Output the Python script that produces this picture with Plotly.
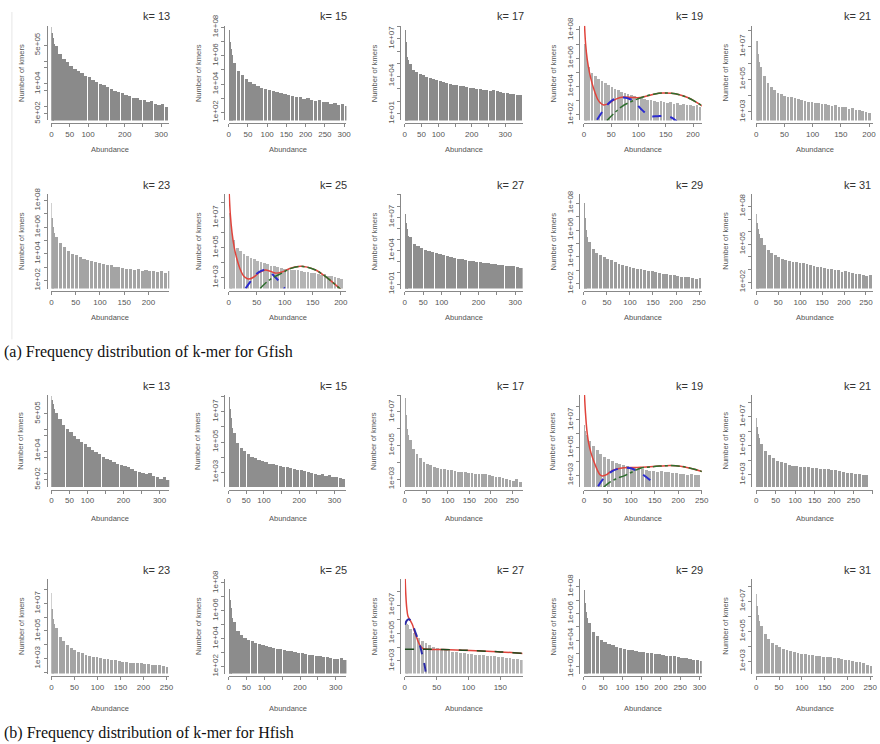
import numpy as np
import plotly.graph_objects as go

W, H = 880, 744

# ---------------- data (k-mer counts) ----------------
# first bin, split into 2-unit sub-bins (the spike near abundance 0)
g13_head = [3.2e6, 1.8e6, 1.1e6, 8e5, 6e5]
g15_head = [6.3e7, 1e7, 3.2e6, 1.26e6, 6.3e5]
g17_head = [5e7, 6.3e6, 1.26e6, 4e5, 2e5]
g19_head = [1e7, 1.6e6, 5e5]
g21_head = [2.5e7, 4e6, 1.26e6]
g23_head = [6.3e7, 5e6, 1e6, 4e5]
g25_head = [2e7, 3.2e6, 8e5]
g27_head = [2e7, 3.2e6, 1e6, 4e5, 2.2e5]
g29_head = [1e8, 8e6, 1e6, 3.2e5]
g31_head = [2.5e7, 5e6, 1.6e6, 6.3e5]
h13_head = [3.2e6, 2e6, 1.4e6, 1e6, 8e5]
h15_head = [1e8, 1.6e7, 4e6, 1.6e6, 8e5]
h17_head = [6.3e7, 6.3e6, 1e6, 4e5]
h19_head = [4e6, 1.6e6, 8e5, 5e5]
h21_head = [8e6, 2e6, 6.3e5, 3.2e5, 2e5]
h23_head = [6.3e7, 4e6, 8e5, 3.2e5]
h25_head = [4e7, 6.3e6, 1.6e6, 6.3e5, 3.2e5]
h27_head = [6.3e5, 5e5, 4e5]
h29_head = [6.3e7, 6.3e6, 1.26e6, 5e5, 3.2e5]
h31_head = [3.2e7, 5e6, 1.26e6, 5e5]

# remaining bins
g13 = [4.5e5, 2.2e5, 1.3e5, 9e4, 6.3e4, 4.8e4, 3.7e4, 3e4, 2.4e4, 2e4, 1.6e4, 1.26e4, 1.05e4, 9e3, 7.4e3,
       6.3e3, 5.2e3, 4.6e3, 4e3, 3.3e3, 3.2e3, 2.6e3, 2.4e3, 2e3, 2.1e3, 1.7e3, 1.8e3, 1.4e3, 1.26e3, 1.3e3, 1e3]
g15 = [3.2e5, 9e4, 4.5e4, 2.5e4, 1.6e4, 1.1e4, 8e3, 6e3, 4.8e3, 4e3, 3.3e3, 2.8e3, 2.4e3, 2e3, 1.8e3,
       1.6e3, 1.3e3, 1.26e3, 1e3, 1.05e3, 830, 700, 800, 630, 560, 400, 520, 350, 400, 320]
g17 = [1e5, 3.5e4, 2.2e4, 1.6e4, 1.26e4, 1e4, 8e3, 6.3e3, 5e3, 4.2e3, 3.5e3, 3.2e3, 2.6e3, 2.2e3, 2e3,
       1.8e3, 1.6e3, 1.4e3, 1.26e3, 1.1e3, 1e3, 1.05e3, 900, 800, 700, 800, 630, 560, 500, 520, 420, 400, 350, 320]
g19 = [2.5e5, 1e5, 6.3e4, 3.5e4, 2.5e4, 1.8e4, 1.26e4, 9e3, 7e3, 5.6e3, 4.5e3, 3.5e3, 3.2e3, 2.5e3, 2.2e3,
       2e3, 1.6e3, 1.4e3, 1.26e3, 1.1e3, 1e3, 900, 1e3, 800, 700, 800, 630, 700, 560, 630, 500, 560, 450, 500, 400]
g21 = [6.3e5, 1.6e5, 6.3e4, 3.5e4, 2.2e4, 1.6e4, 1.26e4, 1.05e4, 9e3, 8e3, 7.6e3, 6.6e3, 6e3, 5e3, 4.5e3,
       4.2e3, 3.8e3, 3.5e3, 3.2e3, 3.2e3, 2.8e3, 2.5e3, 2.6e3, 2.2e3, 2e3, 2.1e3, 1.6e3, 1.8e3, 1.3e3, 1.4e3, 1.1e3,
       1e3, 900]
g23 = [2e5, 6.3e4, 3.2e4, 1.8e4, 1.1e4, 8e3, 5.6e3, 4.5e3, 3.5e3, 2.8e3, 2.4e3, 2e3, 1.8e3, 1.6e3, 1.4e3,
       1.1e3, 1e3, 900, 700, 800, 630, 700, 560, 630, 500, 560, 450, 500, 400, 500]
g25 = [3.2e5, 1e5, 6.3e4, 4e4, 2.8e4, 2.2e4, 1.8e4, 1.4e4, 1.1e4, 9.5e3, 8e3, 6.6e3, 6e3, 5.2e3, 4.5e3,
       4e3, 3.8e3, 3.5e3, 3.3e3, 3.2e3, 2.8e3, 2.6e3, 2.4e3, 2e3, 2.1e3, 1.8e3, 1.6e3, 1.7e3, 1.3e3, 1.26e3, 1.1e3,
       1e3, 900]
g27 = [1.6e5, 4e4, 2.5e4, 1.8e4, 1.3e4, 1e4, 7.6e3, 6e3, 4.8e3, 4e3, 3.3e3, 2.8e3, 2.5e3, 2e3, 1.8e3,
       1.6e3, 1.3e3, 1.26e3, 1.1e3, 1e3, 900, 800, 700, 630, 560, 500, 400, 450, 400, 350, 280]
g29 = [1.26e5, 4e4, 2.2e4, 1.4e4, 1e4, 7.6e3, 5.6e3, 4.2e3, 3.2e3, 2.5e3, 2e3, 1.7e3, 1.5e3, 1.3e3, 1.2e3,
       1.05e3, 950, 900, 800, 660, 600, 520, 450, 500, 400, 350, 320, 350, 280, 250, 280]
g31 = [3.2e5, 1e5, 4e4, 2.2e4, 1.4e4, 9.5e3, 7.6e3, 6.3e3, 5.2e3, 4.5e3, 4e3, 3.5e3, 3.2e3, 2.8e3, 2.4e3,
       2e3, 1.8e3, 1.6e3, 1.4e3, 1.26e3, 1.1e3, 1e3, 900, 700, 800, 630, 560, 450, 500, 400, 350, 400]
h13 = [5.6e5, 2.8e5, 1.6e5, 1e5, 7e4, 5e4, 3.5e4, 2.6e4, 2e4, 1.5e4, 1.1e4, 9e3, 7e3, 5.6e3, 4.5e3,
       3.8e3, 3.2e3, 2.6e3, 2.2e3, 2e3, 1.8e3, 1.6e3, 1.3e3, 1.1e3, 1e3, 900, 1e3, 760, 660, 560, 630, 500]
h15 = [4e5, 9e4, 4e4, 2.4e4, 1.7e4, 1.1e4, 8.3e3, 6.6e3, 5.2e3, 4.5e3, 3.8e3, 3.3e3, 3e3, 2.6e3, 2.4e3,
       2.1e3, 1.9e3, 1.7e3, 1.5e3, 1.4e3, 1.26e3, 1.1e3, 950, 800, 700, 800, 600, 630, 500, 520, 400, 350]
h17 = [2e5, 6.3e4, 3.2e4, 1.8e4, 1.1e4, 8.3e3, 6.6e3, 5.6e3, 4.8e3, 4.2e3, 3.8e3, 3.5e3, 3.3e3, 3e3, 2.8e3,
       2.6e3, 2.5e3, 2.4e3, 2.2e3, 2.1e3, 2e3, 2.1e3, 1.9e3, 1.8e3, 1.6e3, 1.4e3, 1.26e3, 1.1e3, 1e3, 900, 800,
       1e3, 700]
h19 = [3.2e5, 1.26e5, 6.3e4, 3.5e4, 2.2e4, 1.4e4, 1e4, 8e3, 6.3e3, 5.2e3, 4.8e3, 4.2e3, 3.5e3, 3e3, 2.6e3,
       2.4e3, 2.1e3, 2e3, 1.8e3, 1.9e3, 1.6e3, 1.7e3, 1.4e3, 1.5e3, 1.26e3, 1.3e3, 1.1e3, 1.2e3, 1e3, 1.05e3]
h21 = [1.26e5, 4e4, 2.2e4, 1.4e4, 9.5e3, 7.6e3, 6e3, 5e3, 4.2e3, 3.8e3, 3.5e3, 3.3e3, 3.2e3, 3e3, 2.8e3,
       2.6e3, 2.5e3, 2.4e3, 2.2e3, 2e3, 1.8e3, 1.6e3, 1.4e3, 1.26e3, 1.1e3, 1.2e3, 1e3, 900]
h23 = [1.6e5, 4e4, 1.8e4, 1e4, 6.3e3, 4.2e3, 3.2e3, 2.5e3, 2e3, 1.7e3, 1.4e3, 1.26e3, 1.1e3, 1e3, 900,
       800, 760, 660, 600, 560, 520, 500, 450, 480, 400, 420, 350, 320, 330, 280, 250]
h25 = [1.6e5, 4e4, 2e4, 1.26e4, 9e3, 6.6e3, 5.2e3, 4.2e3, 3.5e3, 3e3, 2.6e3, 2.2e3, 2e3, 1.8e3, 1.6e3,
       1.4e3, 1.26e3, 1.1e3, 1e3, 950, 830, 760, 660, 630, 560, 520, 480, 420, 380, 350, 400, 320]
h27 = [2e5, 1e5, 5e4, 2.8e4, 2e4, 1.4e4, 1.1e4, 9e3, 7.6e3, 6.6e3, 5.8e3, 5e3, 4.6e3, 4.2e3, 3.8e3,
       3.5e3, 3.3e3, 3e3, 2.8e3, 2.6e3, 2.5e3, 2.4e3, 2.2e3, 2.1e3, 2e3, 1.8e3, 1.66e3, 1.5e3, 1.4e3, 1.26e3]
h29 = [2e5, 4e4, 2e4, 1.1e4, 7.6e3, 5.6e3, 4.2e3, 3.3e3, 2.8e3, 2.4e3, 2e3, 1.8e3, 1.6e3, 1.4e3, 1.26e3,
       1.1e3, 1.05e3, 950, 900, 800, 700, 660, 630, 560, 500, 450, 400, 350, 320, 280]
h31 = [2.5e5, 7e4, 3.2e4, 1.8e4, 1.26e4, 9e3, 7e3, 6e3, 5e3, 4.5e3, 4e3, 3.5e3, 3.3e3, 3e3, 2.8e3,
       2.5e3, 2.4e3, 2.2e3, 2e3, 2.1e3, 1.8e3, 1.66e3, 1.6e3, 1.4e3, 1.26e3, 1.1e3, 1e3, 900, 800, 630, 560]

# fitted model curves (abundance, count)
g19_red_x = [1, 3, 6, 10, 15, 20, 25, 30, 36, 45, 55, 65, 75, 90, 103, 115, 130, 145, 160, 175, 190, 205, 220]
g19_red_y = [2e8, 1e7, 8e5, 1e5, 1.6e4, 4e3, 1.26e3, 700, 500, 630, 1.1e3, 1.6e3, 1.8e3, 1.66e3, 1.66e3, 2.1e3,
             3e3, 3.5e3, 3.3e3, 2.6e3, 1.66e3, 830, 350]
g19_blue_x = [24, 35, 45, 55, 65, 73, 85, 95, 105, 115, 121, 135, 145, 158, 170]
g19_blue_y = [45, 200, 630, 1.26e3, 1.6e3, 1.66e3, 1.26e3, 630, 250, 110, 80, 80, 83, 70, 35]
g19_green_x = [42, 55, 70, 85, 100, 115, 130, 145, 160, 175, 190, 205, 220]
g19_green_y = [40, 126, 400, 800, 1.4e3, 2.2e3, 3e3, 3.5e3, 3.3e3, 2.6e3, 1.66e3, 830, 350]

g25_red_x = [1, 3, 6, 10, 15, 20, 25, 30, 36, 45, 55, 65, 75, 83, 95, 110, 125, 140, 155, 170, 185, 200]
g25_red_y = [4e8, 1.6e7, 1e6, 1e5, 1.6e4, 4e3, 1.6e3, 1e3, 800, 1.1e3, 2.2e3, 3.2e3, 2.6e3, 2e3, 2.4e3, 4.2e3,
             5.6e3, 5e3, 3.2e3, 1.4e3, 500, 160]
g25_blue_x = [30, 40, 50, 58, 64, 72, 80, 90, 100]
g25_blue_y = [186, 630, 1.8e3, 2.8e3, 3.2e3, 2.5e3, 1.4e3, 560, 186]
g25_green_x = [56, 65, 75, 85, 95, 110, 125, 140, 155, 170, 185, 200]
g25_green_y = [186, 400, 800, 1.3e3, 2e3, 4e3, 5.6e3, 5e3, 3.2e3, 1.4e3, 500, 160]

h19_red_x = [1, 3, 6, 10, 15, 21, 28, 34, 39, 48, 58, 70, 85, 100, 120, 140, 160, 183, 205, 230, 252]
h19_red_y = [6.3e8, 4e7, 2e6, 2e5, 4e4, 1e4, 2.5e3, 1.1e3, 900, 1.1e3, 2e3, 2.8e3, 3.5e3, 3.6e3, 3.8e3, 4.2e3,
             4.6e3, 5e3, 4.5e3, 3e3, 1.8e3]
h19_blue_x = [30, 40, 50, 60, 70, 85, 100, 115, 127, 140, 150, 155]
h19_blue_y = [160, 500, 1.1e3, 2e3, 2.8e3, 3.5e3, 3.2e3, 1.8e3, 1e3, 450, 220, 160]
h19_green_x = [42, 55, 70, 85, 100, 120, 140, 160, 183, 205, 230, 252]
h19_green_y = [140, 320, 600, 900, 1.6e3, 3.2e3, 4e3, 4.6e3, 5e3, 4.5e3, 3e3, 1.8e3]

h27_red_x = [0.5, 1.5, 3, 5, 8, 12, 16, 20, 24, 28, 35, 60, 90, 120, 150, 185]
h27_red_y = [8e8, 6.3e7, 6.3e6, 1.6e6, 9e5, 4e5, 1e5, 3.2e4, 1.26e4, 8e3, 7e3, 6.6e3, 6e3, 5.2e3, 4.5e3, 3.5e3]
h27_blue_x = [0, 3, 6, 9, 13, 17, 21, 25, 28, 31, 33]
h27_blue_y = [4e5, 8e5, 1e6, 8e5, 3.2e5, 1e5, 3.2e4, 8e3, 2e3, 500, 126]
h27_green_x = [0, 30, 60, 90, 120, 150, 185]
h27_green_y = [7e3, 7e3, 6.6e3, 6e3, 5.2e3, 4.5e3, 3.5e3]

k_values = [13, 15, 17, 19, 21, 23, 25, 27, 29, 31]
captions = ["(a) Frequency distribution of k-mer for Gfish", "(b) Frequency distribution of k-mer for Hfish"]

# ---------------- panel configuration ----------------
T13 = [5e2, 1e3, 5e3, 1e4, 5e4, 1e5, 5e5]
EVEN = [1e2, 1e4, 1e6, 1e8]
ODD = [1e3, 1e5, 1e7]
X300 = ([0, 50, 100, 150, 200, 250, 300], ['0', '50', '100', '', '200', '', '300'])
X300F = ([0, 50, 100, 150, 200, 250, 300], ['0', '50', '100', '150', '200', '250', '300'])
X250 = ([0, 50, 100, 150, 200, 250], ['0', '50', '100', '150', '200', '250'])
X200 = ([0, 50, 100, 150, 200], ['0', '50', '100', '150', '200'])
X150 = ([0, 50, 100, 150], ['0', '50', '100', '150'])


def dec(a, b):
    return [10.0 ** e for e in range(a, b + 1)]


panels = [
    dict(h=g13_head, v=g13, step=10, xmax=322, yr=(2.4, 6.55), yt=T13, yl=[5e2, 1e4, 5e5], xt=X300, c='#8a8a8a', f=0.94),
    dict(h=g15_head, v=g15, step=10, xmax=306, yr=(1.45, 8.1), yt=dec(2, 8), yl=EVEN, xt=X300F, c='#8c8c8c', f=0.88),
    dict(h=g17_head, v=g17, step=10, xmax=352, yr=(0.45, 8.05), yt=dec(1, 8), yl=[1e1, 1e4, 1e7], xt=X300, c='#8a8a8a', f=0.9),
    dict(h=g19_head, v=g19, step=6, xmax=216, yr=(1.6, 8.3), yt=dec(2, 8), yl=EVEN, xt=X200, c='#b0b0b0', f=0.8),
    dict(h=g21_head, v=g21, step=6, xmax=207, yr=(2.47, 8.3), yt=dec(3, 8), yl=ODD, xt=X200, c='#a8a8a8', f=0.78),
    dict(h=g23_head, v=g23, step=8, xmax=243, yr=(1.4, 8.5), yt=dec(2, 8), yl=EVEN, xt=X250, c='#a4a4a4', f=0.8),
    dict(h=g25_head, v=g25, step=6, xmax=210, yr=(2.27, 8.6), yt=dec(3, 8), yl=ODD, xt=X200, c='#b4b4b4', f=0.8),
    dict(h=g27_head, v=g27, step=10, xmax=320, yr=(0.6, 9.1), yt=dec(1, 9), yl=[1e1, 1e4, 1e7], xt=X300, c='#8e8e8e', f=0.92),
    dict(h=g29_head, v=g29, step=8, xmax=256, yr=(1.64, 8.7), yt=dec(2, 8), yl=EVEN, xt=X250, c='#9c9c9c', f=0.78),
    dict(h=g31_head, v=g31, step=8, xmax=266, yr=(1.5, 9.0), yt=dec(2, 8), yl=[1e2, 1e5, 1e8], xt=X250, c='#9e9e9e', f=0.78),
    dict(h=h13_head, v=h13, step=10, xmax=327, yr=(2.37, 6.55), yt=T13, yl=[5e2, 1e4, 5e5], xt=X300, c='#8c8c8c', f=0.94),
    dict(h=h15_head, v=h15, step=10, xmax=334, yr=(2.04, 8.1), yt=dec(3, 8), yl=ODD, xt=X300, c='#8e8e8e', f=0.9),
    dict(h=h17_head, v=h17, step=8, xmax=274, yr=(2.54, 8.0), yt=dec(3, 8), yl=ODD, xt=X250, c='#a6a6a6', f=0.78),
    dict(h=h19_head, v=h19, step=8, xmax=250, yr=(2.16, 8.8), yt=dec(3, 8), yl=ODD, xt=X250, c='#adadad', f=0.8),
    dict(h=h21_head, v=h21, step=10, xmax=300, yr=(2.16, 8.5), yt=dec(3, 8), yl=ODD, xt=X300F, c='#9c9c9c', f=0.78),
    dict(h=h23_head, v=h23, step=8, xmax=256, yr=(1.9, 8.8), yt=dec(2, 8), yl=ODD, xt=X250, c='#a4a4a4', f=0.78),
    dict(h=h25_head, v=h25, step=10, xmax=330, yr=(1.5, 8.3), yt=dec(2, 8), yl=EVEN, xt=X300, c='#8c8c8c', f=0.9),
    dict(h=h27_head, v=h27, step=6, xmax=185, yr=(2.1, 8.9), yt=dec(3, 8), yl=ODD, xt=X150, c='#b4b4b4', f=0.75),
    dict(h=h29_head, v=h29, step=10, xmax=306, yr=(1.5, 8.6), yt=dec(2, 8), yl=EVEN, xt=X300F, c='#8e8e8e', f=0.88),
    dict(h=h31_head, v=h31, step=8, xmax=256, yr=(2.2, 8.5), yt=dec(3, 8), yl=ODD, xt=X250, c='#a6a6a6', f=0.78),
]

RED, BLUE, GREEN = '#e0443c', '#2b2bd0', '#2e6e2e'
fits = {
    3: [(g19_red_x, g19_red_y, RED, 'solid', 1.5), (g19_blue_x, g19_blue_y, BLUE, 'dash', 2),
        (g19_green_x, g19_green_y, GREEN, 'dashdot', 1.5)],
    6: [(g25_red_x, g25_red_y, RED, 'solid', 1.5), (g25_blue_x, g25_blue_y, BLUE, 'dash', 2),
        (g25_green_x, g25_green_y, GREEN, 'dashdot', 1.5)],
    13: [(h19_red_x, h19_red_y, RED, 'solid', 1.5), (h19_blue_x, h19_blue_y, BLUE, 'dash', 2),
         (h19_green_x, h19_green_y, GREEN, 'dashdot', 1.5)],
    17: [(h27_red_x, h27_red_y, RED, 'solid', 1.5), (h27_blue_x, h27_blue_y, '#2a2aa8', 'dash', 2),
         (h27_green_x, h27_green_y, '#1e4a1e', 'dash', 1.5)],
}

# pixel geometry (title y, plot top, plot bottom, axis-title y) per row
COL_L = [50, 229, 407, 588, 762]
PW = 119
ROW_TITLE = [4, 177, 383, 571]
ROWS = [(14, 111), (186, 283), (392, 486), (580, 677)]
ROW_XLAB = [141, 313, 518, 713]
CAP_Y = [348, 738]
FONT = 'Liberation Sans'
TXT = '#555555'

fig = go.Figure()
layout = dict(width=W, height=H, margin=dict(l=0, r=0, t=0, b=0), paper_bgcolor='white',
              plot_bgcolor='white', showlegend=False, autosize=False)
annotations = []


def fmt(v):
    return '%.0e' % v


for i, p in enumerate(panels):
    r, c = divmod(i, 5)
    L = COL_L[c]
    top, bot = ROWS[r]
    n = i + 1
    R = min(L + PW, W)
    sub = 2.0
    hx = sub / 2 + sub * np.arange(len(p['h']))
    xs = p['step'] * 1.5 + p['step'] * np.arange(len(p['v']))
    fig.add_trace(go.Bar(x=hx, y=p['h'], width=sub * 0.95,
                         marker=dict(color=p['c'], line=dict(width=0)),
                         xaxis='x%d' % n, yaxis='y%d' % n, hoverinfo='skip'))
    fig.add_trace(go.Bar(x=xs, y=p['v'], width=p['step'] * p['f'],
                         marker=dict(color=p['c'], line=dict(width=0)),
                         xaxis='x%d' % n, yaxis='y%d' % n, hoverinfo='skip'))
    for (fx, fy, col, dash, lw) in fits.get(i, []):
        fig.add_trace(go.Scatter(x=fx, y=fy, mode='lines',
                                 line=dict(color=col, dash=dash, width=lw, shape='spline'),
                                 xaxis='x%d' % n, yaxis='y%d' % n, hoverinfo='skip'))
    layout['xaxis%d' % n] = dict(
        domain=[L / W, R / W], range=[0, p['xmax']], anchor='free', position=1 - (bot + 3) / H,
        showline=True, linecolor='#888888', linewidth=1, ticks='outside', ticklen=3, tickcolor='#888888',
        tickvals=p['xt'][0], ticktext=p['xt'][1], tickfont=dict(family=FONT, size=8, color=TXT),
        showgrid=False, zeroline=False, fixedrange=True)
    layout['yaxis%d' % n] = dict(
        domain=[1 - bot / H, 1 - top / H], type='log', range=list(p['yr']), anchor='free',
        position=(L - 5) / W, showline=True, linecolor='#888888', linewidth=1, ticks='outside', ticklen=3,
        tickcolor='#888888', tickvals=p['yt'], ticktext=[fmt(t) if t in p['yl'] else '' for t in p['yt']],
        tickangle=-90, tickfont=dict(family=FONT, size=8, color=TXT), showgrid=False, zeroline=False,
        fixedrange=True)
    annotations.append(dict(text='k= %d' % k_values[i % 10], x=min(L + PW + 3, W) / W, y=1 - ROW_TITLE[r] / H,
                            xref='paper', yref='paper', xanchor='right', yanchor='middle', showarrow=False,
                            font=dict(family=FONT, size=11, color='#333333')))
    annotations.append(dict(text='Number of kmers', x=(L - 31) / W, y=1 - (top + bot) / 2 / H, textangle=-90,
                            xref='paper', yref='paper', xanchor='center', yanchor='middle', showarrow=False,
                            font=dict(family=FONT, size=7.5, color=TXT)))
    annotations.append(dict(text='Abundance', x=(L + R) / 2 / W, y=1 - ROW_XLAB[r] / H,
                            xref='paper', yref='paper', xanchor='center', yanchor='middle', showarrow=False,
                            font=dict(family=FONT, size=7.5, color=TXT)))

for cap, cy in zip(captions, CAP_Y):
    annotations.append(dict(text=cap, x=0, y=1 - cy / H, xref='paper', yref='paper', xanchor='left',
                            yanchor='middle', showarrow=False,
                            font=dict(family='Liberation Serif', size=16, color='#111111')))

layout['annotations'] = annotations
layout['shapes'] = [dict(type='line', xref='paper', yref='paper', x0=10 / W, x1=10 / W, y0=1, y1=1 - 335 / H,
                         line=dict(color='#e6e6e6', width=1))]
layout['bargap'] = 0
layout['barmode'] = 'overlay'
fig.update_layout(**layout)
fig.write_html('out.html', config={'displayModeBar': False},
               post_script="document.body.style.margin='0';document.body.style.padding='0';"
                           "document.documentElement.style.overflow='hidden';")
